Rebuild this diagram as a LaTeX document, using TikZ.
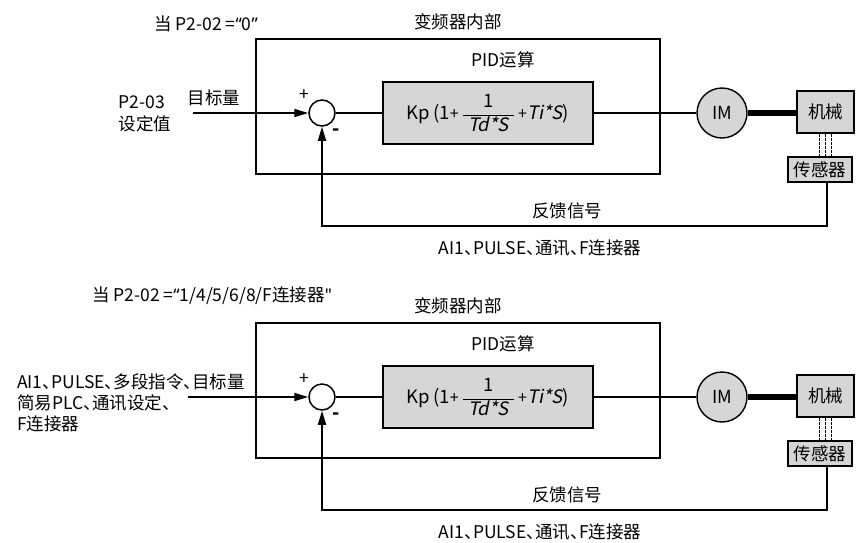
\documentclass[tikz,border=0pt]{standalone}
\usepackage{fontspec}
\setmainfont{Noto Sans CJK SC}[ItalicFont=Noto Sans CJK SC, ItalicFeatures={FakeSlant=0.2}]
\newfontfamily\punfont{Noto Sans CJK SC}[RawFeature=+halt]
\newfontfamily\latfont{Noto Sans}
\newcommand{\dun}{{\punfont 、}}
\newcommand{\lqt}{{\latfont “}}
\newcommand{\rqt}{{\latfont ”}}
\newcommand{\sqt}{{\latfont\symbol{34}}}
\usetikzlibrary{arrows.meta}
\definecolor{boxgray}{RGB}{214,214,214}
\tikzset{
  lbl/.style={font=\fontsize{17.5}{21}\selectfont, inner sep=0pt},
  frame/.style={draw, line width=1.4pt, minimum width=404pt, minimum height=135pt, inner sep=0pt},
  pidbox/.style={draw, line width=1.4pt, fill=boxgray, minimum width=210pt, minimum height=62pt, inner sep=0pt},
  sumc/.style={draw, circle, line width=1.5pt, minimum size=26pt, inner sep=0pt, fill=white},
  motor/.style={draw, circle, line width=1.4pt, fill=boxgray, minimum size=50pt, inner sep=0pt, font=\fontsize{18}{20}\selectfont},
  mechbox/.style={draw, line width=1.4pt, fill=boxgray, minimum width=57pt, minimum height=42pt, inner sep=0pt, font=\fontsize{17.5}{20}\selectfont},
  sensbox/.style={draw, line width=1.4pt, fill=boxgray, minimum width=64pt, minimum height=25pt, inner sep=0pt, font=\fontsize{17.5}{20}\selectfont},
  conn/.style={line width=1.8pt},
  arr/.style={conn, -{Triangle[length=14pt,width=8pt]}},
  shaft/.style={line width=5.5pt},
  link/.style={line width=1.6pt, dash pattern=on 3pt off 1pt},
}
\newcommand{\pidloop}[2]{%
\begin{scope}[yshift=#2]
  \node[frame] (#1inv) at (458,106.5) {};
  \node[lbl] (#1invt) at (458,22) {变频器内部};
  \node[lbl] (#1pidt) at (503,60) {PID运算};
  \node[pidbox] (#1pid) at (488,113) {};
  \node[lbl, font=\fontsize{18.5}{22}\selectfont] (#1form) at (488,113) {Kp\,(1{\fontsize{16}{18}\selectfont+}\,$\displaystyle\frac{\mbox{1}}{\mbox{\hspace{5pt}\itshape Td*S\hspace{5pt}}}$\,{\fontsize{16}{18}\selectfont+}\textit{Ti*S})};
  \node[sumc] (#1sum) at (322,113) {};
  \node[lbl] (#1plus) at (304,95) {+};
  \node[lbl, font=\fontsize{19}{21}\bfseries] (#1minus) at (336,132) {-};
  \node[motor] (#1im) at (722,113) {IM};
  \node[mechbox] (#1mech) at (825.5,112) {机械};
  \node[sensbox] (#1sens) at (820,169.5) {传感器};
  \node[lbl] (#1fbt) at (567,211) {反馈信号};
  \node[lbl] (#1srct) at (540,248) {AI1\dun PULSE\dun 通讯\dun F连接器};
  \coordinate (#1fbl) at (322,226);
  \draw[conn] (#1sum.east) -- (#1pid.west);
  \draw[conn] (#1pid.east) -- (#1im.west);
  \draw[shaft] (#1im.east) -- (#1im.east -| #1mech.west);
  \foreach \dx in {-6,0,6} {
    \draw[link] ([xshift=\dx pt]#1mech.south) -- ([xshift=\dx pt]#1mech.south |- #1sens.north);
  }
  \draw[arr] ([xshift=7pt]#1sens.south) |- (#1fbl) -- (#1sum.south);
\end{scope}}

\begin{document}
\begin{tikzpicture}[x=1pt,y=-1pt]
\useasboundingbox (0,0) rectangle (856,542);
\pidloop{a}{0pt}
\pidloop{b}{-284pt}
% top diagram inputs
\node[lbl] (ta) at (206,24) {当 P2-02 =\lqt 0\rqt};
\node[lbl] (tgta) at (214,98) {目标量};
\node[lbl] (p203) at (142,102) {P2-03};
\node[lbl] (setv) at (145,124) {设定值};
\coordinate (ina) at (193,113);
\draw[arr] (ina) -- (asum.west);
% bottom diagram inputs
\node[lbl] (tb) at (212,296) {当 P2-02 =\lqt 1/4/5/6/8/F连接器\sqt};
\node[lbl, anchor=west, align=left] (srcb) at (17,403) {AI1\dun PULSE\dun 多段指令\dun 目标量\\简易PLC\dun 通讯设定\dun\\F连接器};
\coordinate (inb) at (188,397);
\draw[arr] (inb) -- (bsum.west);
\end{tikzpicture}
\end{document}
